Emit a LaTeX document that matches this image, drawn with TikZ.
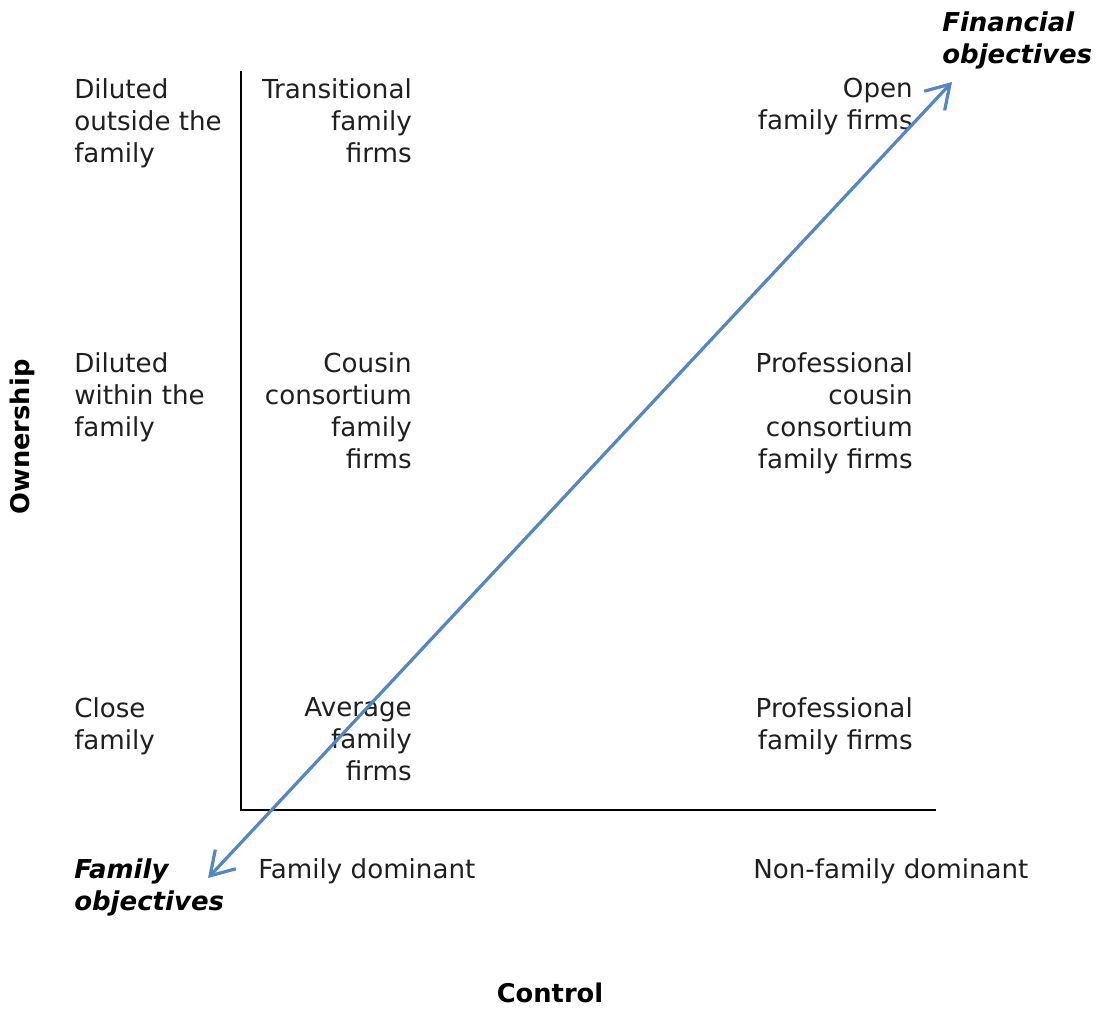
\documentclass[tikz,border=0pt]{standalone}
\usepackage{fontspec}
\setmainfont{DejaVu Sans}
\usetikzlibrary{arrows.meta}
\definecolor{arrowblue}{RGB}{84,134,194}
\begin{document}
\begin{tikzpicture}[x=0.75pt,y=-0.75pt,
  lbl/.style={inner sep=0pt,font=\fontsize{19.6}{24}\selectfont,text=black!88},
  lblL/.style={lbl,align=left,anchor=north west},
  lblR/.style={lbl,align=right,anchor=north east},
  obj/.style={inner sep=0pt,font=\fontsize{19.5}{24}\selectfont\bfseries\itshape,align=left,anchor=north west},
  axtitle/.style={inner sep=0pt,font=\fontsize{19.3}{24}\selectfont\bfseries},
  axisline/.style={line width=1.7pt,black},
  objarrow/.style={line width=2.4pt,arrowblue,{Straight Barb[length=17pt,width=21pt,line width=2.4pt]}-{Straight Barb[length=17pt,width=21pt,line width=2.4pt]}}]
\useasboundingbox (0,0) rectangle (1098,1009);
% axes
\coordinate (top) at (241,71);
\coordinate (origin) at (241,810);
\coordinate (right) at (936,810);
\draw[axisline] (top) -- (origin) -- (right);
% left column (ownership levels)
\node[lblL] (o1) at (74,78) {Diluted\\outside the\\family};
\node[lblL] (o2) at (74,352) {Diluted\\within the\\family};
\node[lblL] (o3) at (74,697) {Close\\family};
% family dominant column
\node[lblR] (c11) at (412,78) {Transitional\\family\\firms};
\node[lblR] (c12) at (412,352) {Cousin\\consortium\\family\\firms};
\node[lblR] (c13) at (412,697) {Average\\family\\firms};
% non-family dominant column
\node[lblR] (c21) at (913,78) {Open\\family firms};
\node[lblR] (c22) at (913,352) {Professional\\cousin\\consortium\\family firms};
\node[lblR] (c23) at (913,697) {Professional\\family firms};
% control levels
\node[lbl,anchor=base west] (k1) at (258,878) {Family dominant};
\node[lbl,anchor=base west] (k2) at (753,878) {Non-family dominant};
% objectives
\node[obj,anchor=base west] (famobj) at (74,878) {Family};
\node[obj,anchor=base west] (famobj2) at (74,910) {objectives};
\node[obj,anchor=base west] (finobj) at (942,32) {Financial};
\node[obj,anchor=base west] (finobj2) at (942,64) {objectives};
% axis titles
\node[axtitle,rotate=90] (own) at (22,437) {Ownership};
\node[axtitle,anchor=base] (ctrl) at (550,1002) {Control};
% arrow
\coordinate (alow) at (208,878);
\coordinate (ahigh) at (952,82);
\draw[objarrow] (alow) -- (ahigh);
\end{tikzpicture}
\end{document}
